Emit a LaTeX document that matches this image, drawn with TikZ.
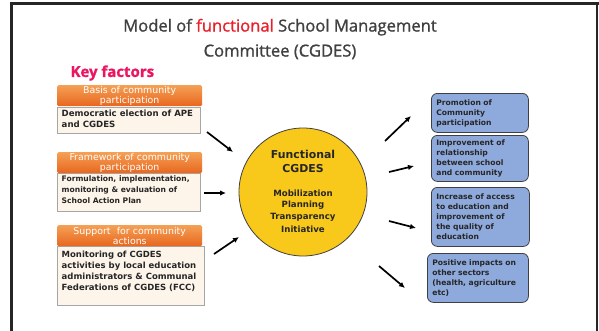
\documentclass[tikz,border=0pt]{standalone}
\usepackage{fontspec}
\setmainfont{DejaVu Sans}
\newfontfamily\titlefont{Open Sans}[FakeBold=1.2]
\usetikzlibrary{arrows.meta}
\definecolor{titlegrey}{HTML}{404040}
\definecolor{titlered}{HTML}{E8202A}
\definecolor{keypink}{HTML}{EC1561}
\definecolor{orangetop}{HTML}{F4A055}
\definecolor{orangebot}{HTML}{E8661E}
\definecolor{cream}{HTML}{FDF5E9}
\definecolor{gold}{HTML}{F8C81A}
\definecolor{boxblue}{HTML}{8EA9DB}
\definecolor{txt}{HTML}{262626}
\tikzset{
  hdr/.style={anchor=north west, top color=orangetop, bottom color=orangebot, rounded corners=1.5pt,
    minimum height=21pt, text width=145pt, minimum width=145pt, inner sep=0pt, align=center,
    text=white, font=\fontsize{9.4}{10.4}\selectfont},
  bodybox/.style={anchor=north west, fill=cream, draw=gray!70, line width=0.6pt, inner sep=0pt, minimum width=143pt},
  bodytext/.style={anchor=north west, inner sep=0pt, align=left, text=txt},
  outbox/.style={anchor=north west, fill=boxblue, draw=titlegrey, line width=0.8pt, rounded corners=6pt,
    inner xsep=5pt, inner ysep=2pt, align=left, text=txt, font=\bfseries\fontsize{7.6}{10}\selectfont},
  arr/.style={line width=1.7pt, -{Latex[length=6pt,width=5.5pt]}, black},
  ctext/.style={text=txt, font=\bfseries\fontsize{8.6}{11}\selectfont, inner sep=0pt},
  cbig/.style={text=txt, font=\bfseries\fontsize{10.9}{13}\selectfont, inner sep=0pt}
}
\begin{document}
\begin{tikzpicture}[x=1pt,y=-1pt]
\useasboundingbox (0,0) rectangle (599,330);
\begin{scope}
\clip (0,0) rectangle (599,330);
\draw[line width=3pt, color=black!85] (11.5,340) -- (11.5,3.5) -- (599,3.5);
\draw[line width=1.2pt, color=black!85] (597,3.5) -- (597,340);
\end{scope}

% title
\node[font=\titlefont\fontsize{16.6}{25}\selectfont, text=titlegrey, align=center] (title) at (280,39)
  {Model of \textcolor{titlered}{functional} School Management\\Committee (CGDES)};
\node[font=\titlefont\bfseries\fontsize{15}{16}\selectfont, text=keypink, anchor=west] (key) at (67,73) {Key factors};

% left boxes
\node[bodybox, minimum height=26pt] (b1) at (57,107) {};
\node[bodytext, font=\bfseries\fontsize{8.6}{11}\selectfont] (b1t) at (61.5,109.5) {Democratic election of APE\\and CGDES};
\node[hdr] (h1) at (57,85) {Basis of community\\participation};

\node[bodybox, minimum height=38pt] (b2) at (57,173) {};
\node[bodytext, font=\bfseries\fontsize{7.6}{11}\selectfont] (b2t) at (61.5,176) {Formulation, implementation,\\monitoring \& evaluation of\\School Action Plan};
\node[hdr] (h2) at (57,152) {Framework of community\\participation};

\node[bodybox, minimum height=59pt, minimum width=147pt] (b3) at (57,246) {};
\node[bodytext, font=\bfseries\fontsize{8.5}{11}\selectfont] (b3t) at (61.5,250.5) {Monitoring of CGDES\\activities by local education\\administrators \& Communal\\Federations of CGDES (FCC)};
\node[hdr] (h3) at (57,225) {Support\ \ for community\\actions};

% circle
\node[circle, fill=gold, draw=titlegrey, line width=0.8pt, minimum size=128pt, inner sep=0pt] (c) at (303,192) {};
\node[cbig] (c1) at (303,154) {Functional};
\node[cbig] (c2) at (303,169) {CGDES};
\node[ctext] (c3) at (303,193) {Mobilization};
\node[ctext] (c4) at (303,205) {Planning};
\node[ctext] (c5) at (303,217) {Transparency};
\node[ctext] (c6) at (303,229) {Initiative};

% right boxes
\node[outbox, minimum width=97pt, minimum height=39pt, text width=87pt] (r1) at (431,93) {Promotion of\\Community\\participation};
\node[outbox, minimum width=97pt, minimum height=46pt, text width=87pt] (r2) at (431,135) {Improvement of\\relationship\\between school\\and community};
\node[outbox, minimum width=98pt, minimum height=59pt, text width=88pt] (r3) at (431,187) {Increase of access\\to education and\\improvement of\\the quality of\\education};
\node[outbox, minimum width=101pt, minimum height=49pt, text width=91pt] (r4) at (427,253) {Positive impacts on\\other sectors\\(health, agriculture\\etc)};

% arrow coordinates
\coordinate (i1s) at (207,132); \coordinate (i1e) at (233,152);
\coordinate (i2s) at (204,193); \coordinate (i2e) at (226,193);
\coordinate (i3s) at (214,254); \coordinate (i3e) at (239,237);
\coordinate (o1s) at (385,141); \coordinate (o1e) at (411,116);
\coordinate (o2s) at (389,172); \coordinate (o2e) at (414,166);
\coordinate (o3s) at (389,221); \coordinate (o3e) at (416,228);
\coordinate (o4s) at (379,266); \coordinate (o4e) at (405,288);
\draw[arr] (i1s) -- (i1e);
\draw[arr] (i2s) -- (i2e);
\draw[arr] (i3s) -- (i3e);
\draw[arr] (o1s) -- (o1e);
\draw[arr] (o2s) -- (o2e);
\draw[arr] (o3s) -- (o3e);
\draw[arr] (o4s) -- (o4e);
\end{tikzpicture}
\end{document}
